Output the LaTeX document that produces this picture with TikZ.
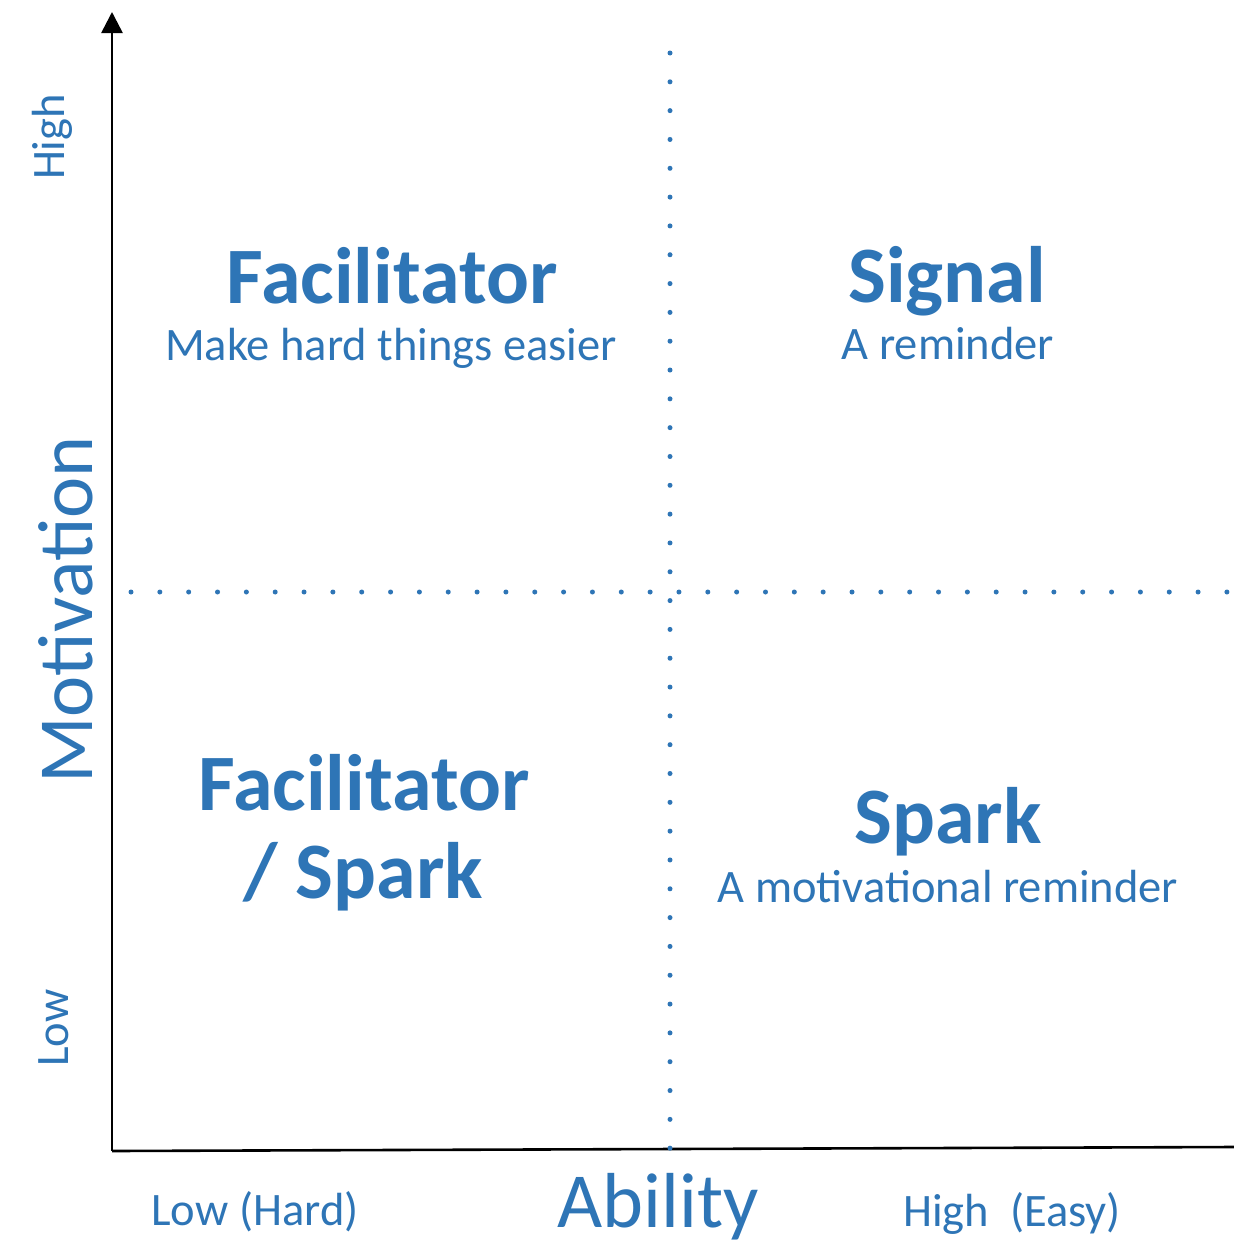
\documentclass[tikz,border=0pt]{standalone}
\usepackage{fontspec}
\setmainfont{Carlito}
\usetikzlibrary{arrows.meta}
\definecolor{ofblue}{RGB}{46,117,182}
\begin{document}
\begin{tikzpicture}[x=1pt,y=-1pt,
  title/.style={text=ofblue,font=\fontsize{80}{86}\selectfont\bfseries,inner sep=0pt,anchor=base},
  sub/.style={text=ofblue,font=\fontsize{46.5}{50}\selectfont,inner sep=0pt,anchor=base},
  axlab/.style={text=ofblue,font=\fontsize{78}{84}\selectfont,inner sep=0pt,anchor=center},
  lvl/.style={text=ofblue,font=\fontsize{46.5}{50}\selectfont,inner sep=0pt,anchor=center},
  vdots/.style={ofblue,line width=5pt,line cap=round,dash pattern=on 0pt off 28.82pt},
  hdots/.style={ofblue,line width=5pt,line cap=round,dash pattern=on 0pt off 28.84pt},
  axis/.style={black,line width=2.6pt}]
\path[use as bounding box] (0,0) rectangle (1234,1245);
\fill[white] (0,0) rectangle (1234,1245);
% axes
\coordinate (origin) at (112,1151);
\coordinate (ytop) at (112,12);
\coordinate (xend) at (1234,1147);
\draw[axis,-{Triangle[length=21pt,width=21pt]}] (origin) -- (ytop);
\draw[axis] (origin) -- (xend);
% dotted quadrant lines
\coordinate (vtop) at (670,53);
\coordinate (vbot) at (670,1148.5);
\coordinate (hleft) at (131,592);
\coordinate (hright) at (1227.5,592);
\draw[vdots] (vtop) -- (vbot);
\draw[hdots] (hleft) -- (hright);
% axis labels
\node[lvl,rotate=90] (yhigh) at (52,137) {High};
\node[lvl,rotate=90] (ylow) at (54,1028) {Low};
\node[axlab,rotate=90] (ylab) at (66,610) {Motivation};
\node[lvl] (xlow) at (255,1212) {Low (Hard)};
\node[axlab] (xlab) at (658,1207) {Ability};
\node[lvl] (xhigh) at (1012,1213) {High\ \ (Easy)};
% quadrant texts
\node[title] (fac) at (392,303) {Facilitator};
\node[sub] (facsub) at (391,360) {Make hard things easier};
\node[title] (sig) at (947,302) {Signal};
\node[sub] (sigsub) at (948,359) {A reminder};
\node[title] (fac2) at (364,810) {Facilitator};
\node[title] (fac2b) at (363,898) {/ Spark};
\node[title] (spark) at (948,843) {Spark};
\node[sub] (sparksub) at (948,902) {A motivational reminder};
\end{tikzpicture}
\end{document}
